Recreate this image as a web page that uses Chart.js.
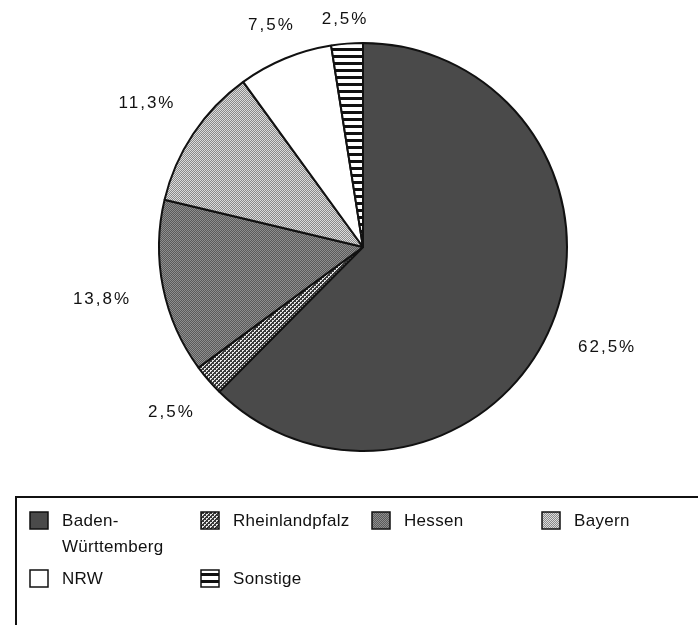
<!DOCTYPE html>
<html>
<head>
<meta charset="utf-8">
<script src="https://cdn.jsdelivr.net/npm/chart.js@4"></script>
<style>
	html, body { margin: 0; padding: 0; background: #fff; }
	#wrap { width: 698px; height: 625px; position: relative; }
</style>
</head>
<body>
<div id="wrap"><canvas id="chart" width="698" height="625"></canvas></div>
<script>
const categories = ['Baden-Württemberg', 'Rheinlandpfalz', 'Hessen', 'Bayern', 'NRW', 'Sonstige']
const shares = [62.5, 2.5, 13.8, 11.3, 7.5, 2.5]
const share_labels = ['62,5%', '2,5%', '13,8%', '11,3%', '7,5%', '2,5%']

function make_pattern (kind) {
	const c = document.createElement('canvas')
	const x = c.getContext('2d')
	if (kind === 'solid') {
		c.width = 4; c.height = 4
		x.fillStyle = '#4a4a4a'
		x.fillRect(0, 0, 4, 4)
	} else if (kind === 'dots') {
		c.width = 4; c.height = 4
		x.fillStyle = '#3a3a3a'
		x.fillRect(0, 0, 4, 4)
		x.fillStyle = '#e8e8e8'
		x.fillRect(0, 0, 2, 2)
		x.fillRect(2, 2, 2, 2)
		x.fillStyle = '#3a3a3a'
		x.fillRect(1, 1, 1, 1)
		x.fillRect(3, 3, 1, 1)
	} else if (kind === 'mid') {
		c.width = 2; c.height = 2
		x.fillStyle = '#5a5a5a'
		x.fillRect(0, 0, 2, 2)
		x.fillStyle = '#8e8e8e'
		x.fillRect(0, 0, 1, 1)
		x.fillRect(1, 1, 1, 1)
	} else if (kind === 'light') {
		c.width = 2; c.height = 2
		x.fillStyle = '#8a8a8a'
		x.fillRect(0, 0, 2, 2)
		x.fillStyle = '#dcdcdc'
		x.fillRect(0, 0, 1, 1)
		x.fillRect(1, 1, 1, 1)
	} else if (kind === 'white') {
		c.width = 2; c.height = 2
		x.fillStyle = '#ffffff'
		x.fillRect(0, 0, 2, 2)
	} else if (kind === 'stripes') {
		c.width = 4; c.height = 7
		x.fillStyle = '#111'
		x.fillRect(0, 0, 4, 7)
		x.fillStyle = '#fff'
		x.fillRect(0, 2, 4, 4)
	}
	return x.createPattern(c, 'repeat')
}

const pattern_kinds = ['solid', 'dots', 'mid', 'light', 'white', 'stripes']
const fills = pattern_kinds.map(make_pattern)

const label_plugin = {
	id: 'slice_labels',
	afterDatasetsDraw (chart) {
		const ctx = chart.ctx
		const meta = chart.getDatasetMeta(0)
		ctx.save()
		ctx.font = '17px "Liberation Sans", Arial, sans-serif'
		ctx.letterSpacing = '2px'
		ctx.fillStyle = '#111'
		ctx.textAlign = 'center'
		ctx.textBaseline = 'middle'
		meta.data.forEach(function (arc, i) {
			const mid = (arc.startAngle + arc.endAngle) / 2
			const text = share_labels[i]
			const w = ctx.measureText(text).width
			const dist = arc.outerRadius + 22 + (w / 2 + 12) * Math.abs(Math.cos(mid))
			ctx.fillText(text, arc.x + Math.cos(mid) * dist, arc.y + Math.sin(mid) * dist)
		})
		ctx.restore()
	},
}

const legend_plugin = {
	id: 'box_legend',
	afterDraw (chart) {
		const ctx = chart.ctx
		ctx.save()
		ctx.strokeStyle = '#111'
		ctx.lineWidth = 2
		ctx.strokeRect(16, 497, 700, 140)
		ctx.font = '17px "Liberation Sans", Arial, sans-serif'
		ctx.letterSpacing = '0.3px'
		ctx.fillStyle = '#111'
		ctx.textBaseline = 'middle'
		const cols = [30, 201, 372, 542]
		categories.forEach(function (name, i) {
			const col = i % 4
			const row = Math.floor(i / 4)
			const x = cols[col]
			const y = row === 0 ? 521 : 579
			ctx.fillStyle = fills[i]
			ctx.fillRect(x, y - 9, 18, 17)
			ctx.lineWidth = 1.5
			ctx.strokeStyle = '#111'
			ctx.strokeRect(x, y - 9, 18, 17)
			ctx.fillStyle = '#111'
			const parts = name.includes('-') ? [name.split('-')[0] + '-', name.split('-')[1]] : [name]
			parts.forEach(function (p, k) {
				ctx.fillText(p, x + 32, y + k * 26)
			})
		})
		ctx.restore()
	},
}

new Chart(document.getElementById('chart'), {
	type: 'pie',
	data: {
		labels: categories,
		datasets: [{
			data: shares,
			backgroundColor: fills,
			borderColor: '#111',
			borderWidth: 2,
		}],
	},
	options: {
		responsive: false,
		animation: false,
		layout: { padding: { top: 42, bottom: 173, left: 158, right: 130 } },
		plugins: {
			legend: { display: false },
			tooltip: { enabled: false },
		},
	},
	plugins: [label_plugin, legend_plugin],
})
</script>
</body>
</html>
